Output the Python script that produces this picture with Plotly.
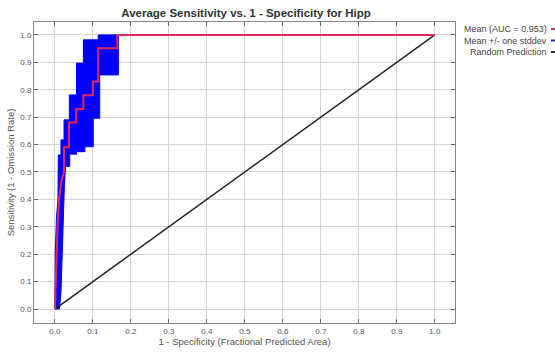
import plotly.graph_objects as go

# Mean ROC curve
mean_x = [0, 0.002, 0.004, 0.007, 0.011, 0.016, 0.022, 0.024, 0.024, 0.037, 0.037, 0.056, 0.056,
          0.075, 0.075, 0.100, 0.100, 0.114, 0.114, 0.164, 0.164, 1.0]
mean_y = [0, 0.10, 0.20, 0.30, 0.40, 0.46, 0.49, 0.50, 0.59, 0.59, 0.68, 0.68, 0.73,
          0.73, 0.78, 0.78, 0.83, 0.83, 0.951, 0.951, 1.0, 1.0]

# Mean + one stddev (upper envelope)
upper_x = [0.0, 0.001, 0.004, 0.008, 0.009, 0.016, 0.016, 0.024, 0.024, 0.038, 0.038, 0.057, 0.057,
           0.075, 0.075, 0.114, 0.114, 0.167]
upper_y = [0.0, 0.20, 0.33, 0.40, 0.562, 0.562, 0.617, 0.617, 0.69, 0.69, 0.781, 0.781, 0.897,
           0.897, 0.982, 0.982, 1.0, 1.0]

# Mean - one stddev (lower envelope), right to left
lower_x = [0.167, 0.167, 0.118, 0.118, 0.101, 0.101, 0.079, 0.079, 0.057, 0.057, 0.039, 0.039,
           0.028, 0.025, 0.022, 0.019, 0.016, 0.012, 0.0]
lower_y = [1.0, 0.854, 0.854, 0.696, 0.696, 0.592, 0.592, 0.574, 0.574, 0.565, 0.565, 0.52,
           0.52, 0.45, 0.33, 0.18, 0.06, 0.0, 0.0]

random_x = [0.0, 1.0]
random_y = [0.0, 1.0]

ticks = [i / 10 for i in range(11)]
tick_labels = [f"{t:.1f}" for t in ticks]

legend_labels = ["Mean (AUC = 0.953)", "Mean +/- one stddev", "Random Prediction"]
legend_colors = ["#e0306a", "#2020ff", "#333333"]

fig = go.Figure()

fig.add_trace(go.Scatter(
    x=upper_x + lower_x, y=upper_y + lower_y,
    fill="toself", fillcolor="#0000ff", mode="lines",
    line=dict(color="#0000ff", width=1), hoverinfo="skip", showlegend=False))

fig.add_trace(go.Scatter(
    x=random_x, y=random_y, mode="lines",
    line=dict(color="#222222", width=1.5), showlegend=False))

fig.add_trace(go.Scatter(
    x=mean_x, y=mean_y, mode="lines",
    line=dict(color="#e0285a", width=2), showlegend=False))

axis_common = dict(
    tickvals=ticks, ticktext=tick_labels, automargin=False,
    showgrid=True, gridcolor="#d4d4d4", gridwidth=1,
    zeroline=False, showline=True, linecolor="#888888", linewidth=1,
    mirror="ticks", ticks="inside", ticklen=4, tickcolor="#666666",
    tickfont=dict(family="Liberation Sans", size=8, color="#555555"),
)

fig.update_xaxes(range=[-0.055, 1.053], **axis_common,
                 title=dict(text="1 - Specificity (Fractional Predicted Area)",
                            font=dict(family="Liberation Sans", size=9.5, color="#555555"),
                            standoff=1))
fig.update_yaxes(range=[-0.051, 1.047], **axis_common,
                 title=dict(text="Sensitivity (1 - Omission Rate)",
                            font=dict(family="Liberation Sans", size=9.5, color="#555555"),
                            standoff=3))

L, R, T, B = 34, 100, 22, 33
W, H = 555, 356
pw, ph = W - L - R, H - T - B

def px(x):
    return (x - L) / pw

def py(y):
    return (H - B - y) / ph

annotations = []
shapes = []
for i, (lab, col) in enumerate(zip(legend_labels, legend_colors)):
    yy = 29 + i * 11.5
    annotations.append(dict(
        text=lab, xref="paper", yref="paper", x=px(549), y=py(yy),
        xanchor="right", yanchor="middle", showarrow=False,
        font=dict(family="Liberation Sans", size=9, color="#444444")))
    shapes.append(dict(
        type="line", xref="paper", yref="paper",
        x0=px(551), x1=px(556), y0=py(yy), y1=py(yy),
        line=dict(color=col, width=2)))

fig.update_layout(
    width=W, height=H,
    margin=dict(l=L, r=R, t=T, b=B),
    paper_bgcolor="white", plot_bgcolor="white",
    title=dict(text="<b>Average Sensitivity vs. 1 - Specificity for Hipp</b>",
               x=246 / W, xanchor="center", y=1 - 13 / H, yanchor="middle",
               font=dict(family="Liberation Sans", size=11.5, color="#333333")),
    annotations=annotations, shapes=shapes,
    showlegend=False,
)

fig.write_html("out.html")
